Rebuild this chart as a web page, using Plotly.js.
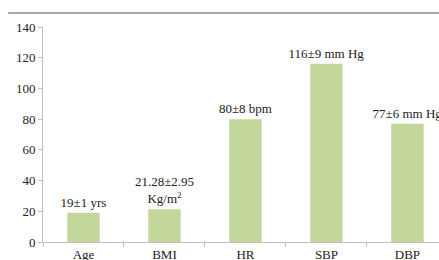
<!DOCTYPE html>
<html><head><meta charset="utf-8">
<script src="https://cdn.plot.ly/plotly-3.0.1.min.js"></script>
<style>html,body{margin:0;padding:0;background:#fff}#c{width:439px;height:260px}</style>
</head><body><div id="c"></div>
<script>
const categories = ["Age", "BMI", "HR", "SBP", "DBP"];
const values = [19, 21.28, 80, 116, 77];
const barLabels = ["19±1 yrs", "21.28±2.95<br>Kg/m<sup>2</sup>", "80±8 bpm", "116±9 mm Hg", "77±6 mm Hg"];
const yTicks = [0, 20, 40, 60, 80, 100, 120, 140];

const font = "Liberation Serif, Times New Roman, serif";
Plotly.newPlot("c", [{
  type: "bar",
  x: categories,
  y: values,
  text: barLabels,
  textposition: "outside",
  constraintext: "none",
  cliponaxis: false,
  textfont: {family: font, size: 13, color: "#222"},
  marker: {color: "#c3d69b"},
  width: 0.4,
  hoverinfo: "none"
}], {
  width: 439, height: 260,
  margin: {l: 43, r: 0, t: 27, b: 18, pad: 0},
  paper_bgcolor: "#fff", plot_bgcolor: "#fff",
  showlegend: false,
  bargap: 0.6,
  font: {family: font, size: 13, color: "#222"},
  xaxis: {
    range: [-0.5, 4.39],
    showline: true, linecolor: "#bfbfbf", linewidth: 1,
    ticks: "outside", tickson: "boundaries", ticklen: 4, tickcolor: "#bfbfbf",
    showgrid: false, zeroline: false,
    tickfont: {family: font, size: 13, color: "#222"},
    fixedrange: true
  },
  yaxis: {
    range: [0, 140],
    tickvals: yTicks,
    showline: true, linecolor: "#bfbfbf", linewidth: 1,
    ticks: "outside", ticklen: 4, tickcolor: "#bfbfbf",
    showgrid: false, zeroline: false,
    tickfont: {family: font, size: 13, color: "#222"},
    fixedrange: true
  },
  shapes: [{
    type: "line", xref: "paper", yref: "paper",
    x0: -0.088, x1: 1.0, y0: 1.065, y1: 1.065,
    line: {color: "#8c8c8c", width: 1.5}
  }]
}, {displayModeBar: false, staticPlot: true});
</script></body></html>
